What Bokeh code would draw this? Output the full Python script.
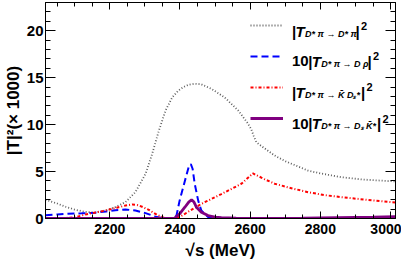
from bokeh.plotting import figure
from bokeh.models import Label, FixedTicker, LinearAxis, Range1d, Legend, LegendItem
from bokeh.embed import file_html
from bokeh.resources import INLINE

# ---------------- data ----------------
# |T_{D* pi -> D* pi}|^2  (x 1000)
s_dpi = [2017, 2050, 2074, 2100, 2131, 2160, 2188, 2215, 2245, 2273, 2302, 2321, 2340,
         2359, 2378, 2395, 2410, 2425, 2442, 2460, 2490, 2527, 2566, 2594, 2603, 2610,
         2618, 2640, 2670, 2700, 2765, 2800, 2860, 2920, 3002, 3014]
t_dpi = [2.0, 1.6, 1.25, 0.95, 0.7, 0.64, 0.85, 1.2, 1.75, 2.8, 4.75, 6.9, 9.36,
         11.5, 12.9, 13.6, 14.0, 14.25, 14.35, 14.3, 13.8, 12.9, 11.5, 10.1, 9.5, 8.8,
         8.1, 7.5, 6.7, 6.1, 5.1, 4.8, 4.4, 4.15, 3.97, 3.95]

# 10|T_{D* pi -> D rho}|^2
s_drho = [2017, 2050, 2081, 2120, 2159, 2190, 2216, 2245, 2273, 2302, 2330, 2349, 2365,
          2380, 2390, 2399, 2414, 2425, 2431, 2436, 2442, 2452, 2461, 2480, 2500, 2550,
          2700, 2850, 3014]
t_drho = [0.35, 0.42, 0.5, 0.55, 0.62, 0.75, 0.88, 0.96, 0.85, 0.57, 0.2, 0.05, 0.0,
          0.0, 0.3, 1.9, 4.0, 5.5, 5.8, 5.3, 3.7, 1.9, 0.85, 0.15, 0.05, 0.02,
          0.02, 0.05, 0.1]

# |T_{D* pi -> Kbar Ds*}|^2
s_kds = [2017, 2060, 2100, 2131, 2160, 2188, 2220, 2245, 2264, 2280, 2292, 2310, 2321,
         2335, 2349, 2362, 2385, 2400, 2414, 2461, 2518, 2575, 2608, 2640, 2670, 2720,
         2765, 2810, 2860, 2930, 3002, 3014]
t_kds = [0.0, 0.02, 0.12, 0.43, 0.65, 0.85, 1.15, 1.38, 1.49, 1.42, 1.25, 0.95, 0.7,
         0.4, 0.15, 0.02, 0.0, 0.2, 0.5, 1.56, 2.6, 3.7, 4.8, 4.2, 3.7, 3.2,
         2.8, 2.5, 2.27, 2.0, 1.74, 1.7]

# 10|T_{D* pi -> Ds Kbar*}|^2
s_dsk = [2017, 2100, 2200, 2300, 2375, 2385, 2399, 2414, 2425, 2433, 2440, 2447, 2461,
         2480, 2500, 2518, 2560, 2650, 2750, 2850, 2950, 3014]
t_dsk = [0.0, 0.0, 0.0, 0.0, 0.0, 0.05, 0.5, 1.2, 1.75, 2.0, 1.75, 1.2, 0.67,
         0.32, 0.15, 0.08, 0.03, 0.02, 0.05, 0.1, 0.15, 0.2]

x_major = [2200, 2400, 2600, 2800, 3000]
y_major = [0, 5, 10, 15, 20]
x_title = "√s (MeV)"
y_title = "|T|²(× 1000)"

# ---------------- layout ----------------
XMIN, XMAX = 2017, 3014
YMIN, YMAX = 0, 23
FW, FH = 350, 216
ML, MR, MT, MB = 44, 6, 2, 48
FONT = "Liberation Sans"

p = figure(frame_width=FW, frame_height=FH,
           x_range=Range1d(XMIN, XMAX), y_range=Range1d(YMIN, YMAX),
           output_backend="svg", toolbar_location=None,
           min_border_left=ML, min_border_right=MR, min_border_top=MT, min_border_bottom=MB,
           x_axis_location=None, y_axis_location=None)
p.xgrid.visible = False
p.ygrid.visible = False
p.outline_line_color = "black"
p.outline_line_width = 1
p.background_fill_color = "white"
p.border_fill_color = "white"

xt = FixedTicker(ticks=x_major, minor_ticks=list(range(2050, 3015, 50)))
yt = FixedTicker(ticks=y_major, minor_ticks=list(range(0, 24)))


def make_axis(kind, side, labels, title=None):
    ax = LinearAxis(ticker=xt if kind == "x" else yt)
    ax.axis_line_color = "black"
    ax.major_tick_line_color = "black"
    ax.minor_tick_line_color = "black"
    ax.major_tick_out = 0
    ax.minor_tick_out = 0
    if kind == "x":
        ax.major_tick_in = 7
        ax.minor_tick_in = 4
    else:
        ax.major_tick_in = 10
        ax.minor_tick_in = 5
    if labels:
        ax.major_label_text_font = FONT
        ax.major_label_text_font_style = "bold"
        ax.major_label_text_color = "black"
        ax.major_label_text_font_size = "14px" if kind == "x" else "15px"
        ax.major_label_standoff = 5 if kind == "x" else 2
    else:
        ax.major_label_text_font_size = "0px"
        ax.major_label_text_color = None
        ax.major_label_standoff = 0
    if title:
        ax.axis_label = title
        ax.axis_label_text_font = FONT
        ax.axis_label_text_font_style = "bold"
        ax.axis_label_text_font_size = "17px"
        ax.axis_label_text_color = "black"
        ax.axis_label_standoff = 4 if kind == "x" else 1
    p.add_layout(ax, side)
    return ax


make_axis("x", "below", True, x_title)
make_axis("x", "above", False)
make_axis("y", "left", True, y_title)
make_axis("y", "right", False)

r_dpi = p.line(s_dpi, t_dpi, line_color="#606060", line_width=1.8, line_dash="1 2")
r_drho = p.line(s_drho, t_drho, line_color="#0000ff", line_width=2, line_dash="7 4")
r_kds = p.line(s_kds, t_kds, line_color="#ff0000", line_width=2, line_dash="3 2 1 2")
r_dsk = p.line(s_dsk, t_dsk, line_color="#800080", line_width=2.8)

legend = Legend(items=[LegendItem(label=" ", renderers=[r]) for r in (r_dpi, r_drho, r_kds, r_dsk)],
                location=(205, 90), glyph_width=33, glyph_height=20, label_height=20,
                label_width=1, spacing=11, padding=0, margin=0, label_standoff=0,
                label_text_font_size="1px", border_line_color=None,
                background_fill_alpha=0)
p.add_layout(legend)


# helpers converting page pixel positions to data coordinates for text placement
def X(px):
    return XMIN + (px - ML) * (XMAX - XMIN) / FW


def Y(py):
    return YMIN + (MT + FH - py) * (YMAX - YMIN) / FH


def txt(px, py, s, size, style="bold"):
    p.add_layout(Label(x=X(px), y=Y(py), text=s, text_font=FONT,
                       text_font_size=f"{size}px", text_font_style=style,
                       text_baseline="alphabetic", text_align="left",
                       text_color="black"))


SUB = 9
MAIN = 15
SUP = 11
# legend texts: (baseline of each entry)
for b, prefix, sub, x_close in [
        (30.7, "", "D* π → D* π", 354.0),
        (60.7, "10", "D* π → D ρ", 366.0),
        (91.5, "", "D* π → K\u0304 D\u209b*", 359.5),
        (123.0, "10", "D* π → D\u209b K\u0304*", 375.5)]:
    x0 = 290.5
    if prefix:
        txt(x0, b, prefix, MAIN)
        x0 += 16.2
    txt(x0, b, "|", MAIN)
    txt(x0 + 3.5, b, "T", MAIN, "bold italic")
    txt(x0 + 13.0, b + 2.8, sub, SUB, "bold italic")
    txt(x_close, b, "|", MAIN)
    txt(x_close + 5.5, b - 5.0, "2", SUP)

open("out.html", "w").write(file_html(p, INLINE))
